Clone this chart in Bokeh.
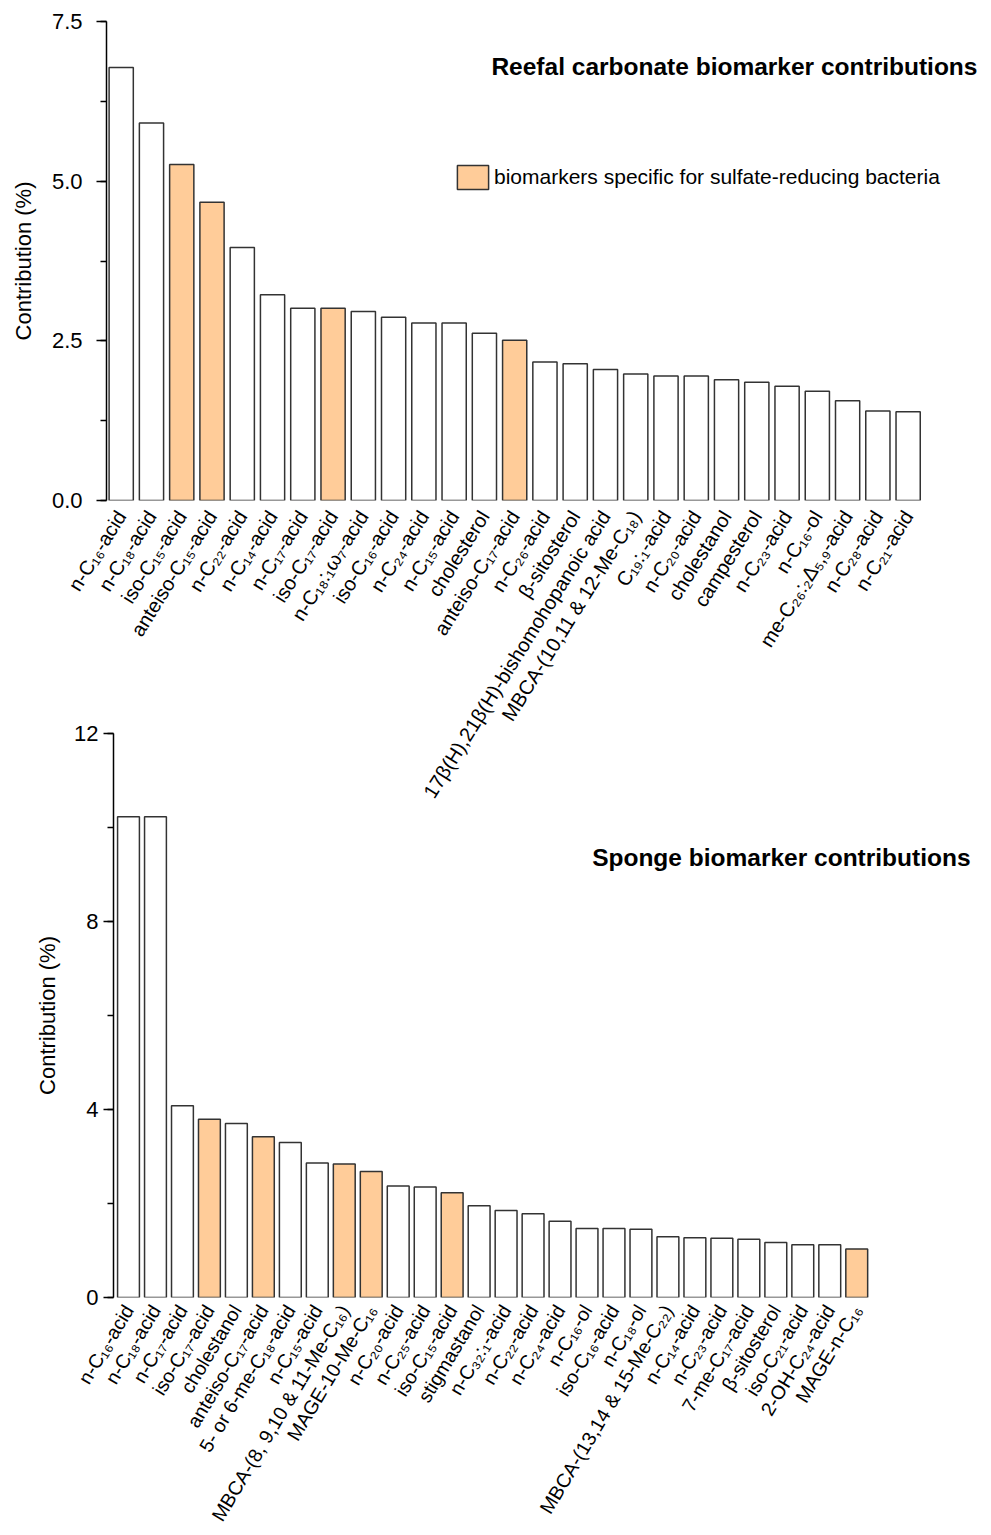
import math
from bokeh.plotting import figure
from bokeh.models import (ColumnDataSource, FixedTicker, SingleIntervalTicker,
                          PrintfTickFormatter, Range1d, Label, Legend, LegendItem)
from bokeh.layouts import column
from bokeh.embed import file_html
from bokeh.resources import INLINE

FONT = "Liberation Sans"
ORANGE = "#FFCC99"
EDGE = "#333333"

# ---------------- data: reefal carbonate ----------------
reef_labels = [
    "n-C₁₆-acid", "n-C₁₈-acid", "iso-C₁₅-acid", "anteiso-C₁₅-acid", "n-C₂₂-acid",
    "n-C₁₄-acid", "n-C₁₇-acid", "iso-C₁₇-acid", "n-C₁₈:₁ω₇-acid", "iso-C₁₆-acid",
    "n-C₂₄-acid", "n-C₁₅-acid", "cholesterol", "anteiso-C₁₇-acid", "n-C₂₆-acid",
    "β-sitosterol", "17β(H),21β(H)-bishomohopanoic acid", "MBCA-(10,11 & 12-Me-C₁₈)",
    "C₁₉:₁-acid", "n-C₂₀-acid", "cholestanol", "campesterol", "n-C₂₃-acid",
    "n-C₁₆-ol", "me-C₂₆:₂Δ₅,₉-acid", "n-C₂₈-acid", "n-C₂₁-acid",
]
reef_values = [6.78, 5.91, 5.26, 4.67, 3.96, 3.22, 3.01, 3.01, 2.96, 2.87, 2.78, 2.78,
               2.62, 2.51, 2.17, 2.14, 2.05, 1.98, 1.95, 1.95, 1.89, 1.85, 1.79, 1.71,
               1.56, 1.40, 1.39]
reef_srb = [False, False, True, True, False, False, False, True, False, False, False, False,
            False, True, False, False, False, False, False, False, False, False, False, False,
            False, False, False]

# ---------------- data: sponge ----------------
sponge_labels = [
    "n-C₁₆-acid", "n-C₁₈-acid", "n-C₁₇-acid", "iso-C₁₇-acid", "cholestanol",
    "anteiso-C₁₇-acid", "5- or 6-me-C₁₈-acid", "n-C₁₅-acid", "MBCA-(8, 9,10 & 11-Me-C₁₆)",
    "MAGE-10-Me-C₁₆", "n-C₂₀-acid", "n-C₂₅-acid", "iso-C₁₅-acid", "stigmastanol",
    "n-C₃₂:₁-acid", "n-C₂₂-acid", "n-C₂₄-acid", "n-C₁₆-ol", "iso-C₁₆-acid", "n-C₁₈-ol",
    "MBCA-(13,14 & 15-Me-C₂₂)", "n-C₁₄-acid", "n-C₂₃-acid", "7-me-C₁₇-acid",
    "β-sitosterol", "iso-C₂₁-acid", "2-OH-C₂₄-acid", "MAGE-n-C₁₆",
]
sponge_values = [10.23, 10.23, 4.08, 3.79, 3.70, 3.42, 3.30, 2.86, 2.84, 2.68, 2.37, 2.35,
                 2.23, 1.95, 1.85, 1.78, 1.62, 1.47, 1.47, 1.45, 1.29, 1.27, 1.26, 1.24,
                 1.17, 1.12, 1.12, 1.03]
sponge_srb = [False, False, False, True, False, True, False, False, True, True, False, False,
              True, False, False, False, False, False, False, False, False, False, False, False,
              False, False, False, True]

legend_text = "biomarkers specific for sulfate-reducing bacteria"
title_top = "Reefal carbonate biomarker contributions"
title_bottom = "Sponge biomarker contributions"
y_label = "Contribution (%)"


def split_sources(values, flags):
    xs = list(range(len(values)))
    plain = ColumnDataSource(dict(x=[x for x, f in zip(xs, flags) if not f],
                                  top=[v for v, f in zip(values, flags) if not f]))
    special = ColumnDataSource(dict(x=[x for x, f in zip(xs, flags) if f],
                                    top=[v for v, f in zip(values, flags) if f]))
    return plain, special


def style_common(p, labels, angle_deg, label_size, label_standoff):
    p.outline_line_color = None
    p.xgrid.grid_line_color = None
    p.ygrid.grid_line_color = None
    p.background_fill_alpha = 0
    p.border_fill_alpha = 0
    xa = p.xaxis[0]
    xa.ticker = FixedTicker(ticks=list(range(len(labels))))
    xa.major_label_overrides = {i: lab for i, lab in enumerate(labels)}
    xa.major_label_orientation = math.radians(angle_deg)
    xa.axis_line_color = None
    xa.major_tick_line_color = None
    xa.minor_tick_line_color = None
    xa.major_label_standoff = label_standoff
    xa.major_label_text_font = FONT
    xa.major_label_text_font_size = label_size
    xa.major_label_text_color = "black"
    ya = p.yaxis[0]
    ya.axis_line_width = 1.5
    ya.axis_line_color = "black"
    ya.major_tick_line_width = 1.5
    ya.minor_tick_line_width = 1.5
    ya.major_tick_line_color = "black"
    ya.minor_tick_line_color = "black"
    ya.major_tick_out = 10
    ya.major_tick_in = 0
    ya.minor_tick_out = 6
    ya.minor_tick_in = 0
    ya.major_label_text_font = FONT
    ya.major_label_text_font_size = "22px"
    ya.major_label_text_color = "black"
    ya.axis_label = y_label
    ya.axis_label_text_font = FONT
    ya.axis_label_text_font_size = "22px"
    ya.axis_label_text_font_style = "normal"
    ya.axis_label_text_color = "black"


# ---------------- top figure ----------------
p1 = figure(width=997, height=810, output_backend="svg", toolbar_location=None,
            x_range=Range1d(-0.486, 28.49), y_range=Range1d(0, 7.5),
            min_border_left=113, min_border_top=21, min_border_right=0, min_border_bottom=310)
plain1, special1 = split_sources(reef_values, reef_srb)
p1.vbar(x="x", top="top", bottom=0, width=0.8, source=plain1,
        fill_color="white", line_color=EDGE, line_width=1.5)
r_or1 = p1.vbar(x="x", top="top", bottom=0, width=0.8, source=special1,
                fill_color=ORANGE, line_color=EDGE, line_width=1.5)
style_common(p1, reef_labels, 58, "20px", 6)
p1.yaxis[0].ticker = SingleIntervalTicker(interval=2.5, num_minor_ticks=2)
p1.yaxis[0].formatter = PrintfTickFormatter(format="%.1f")
p1.yaxis[0].major_label_standoff = 14
p1.yaxis[0].axis_label_standoff = 13

p1.add_layout(Label(x=28.29, y=6.795, text=title_top, text_align="right",
                    text_baseline="middle", text_font=FONT, text_font_size="24.5px",
                    text_font_style="bold", text_color="black"))
legend = Legend(items=[LegendItem(label=legend_text, renderers=[r_or1])],
                location=(347, 308), padding=0, margin=0, glyph_width=39, glyph_height=30,
                label_standoff=2, label_text_font=FONT, label_text_font_size="21px",
                label_text_color="black", border_line_color=None, background_fill_alpha=0)
p1.add_layout(legend)
p1.margin = (0, 0, 0, -7)

# ---------------- bottom figure ----------------
p2 = figure(width=983, height=815, output_backend="svg", toolbar_location=None,
            x_range=Range1d(-0.556, 31.70), y_range=Range1d(0, 12),
            min_border_left=113, min_border_top=13, min_border_right=0, min_border_bottom=238)
plain2, special2 = split_sources(sponge_values, sponge_srb)
p2.vbar(x="x", top="top", bottom=0, width=0.81, source=plain2,
        fill_color="white", line_color=EDGE, line_width=1.5)
p2.vbar(x="x", top="top", bottom=0, width=0.81, source=special2,
        fill_color=ORANGE, line_color=EDGE, line_width=1.5)
style_common(p2, sponge_labels, 59, "19.5px", 3)
p2.yaxis[0].ticker = SingleIntervalTicker(interval=4, num_minor_ticks=2)
p2.yaxis[0].major_label_standoff = 5
p2.yaxis[0].axis_label_standoff = 11
p2.add_layout(Label(x=31.22, y=9.36, text=title_bottom, text_align="right",
                    text_baseline="middle", text_font=FONT, text_font_size="24.5px",
                    text_font_style="bold", text_color="black"))
p2.margin = (-90, 0, 0, 0)

layout = column(p1, p2)
open("out.html", "w").write(file_html(layout, INLINE))
